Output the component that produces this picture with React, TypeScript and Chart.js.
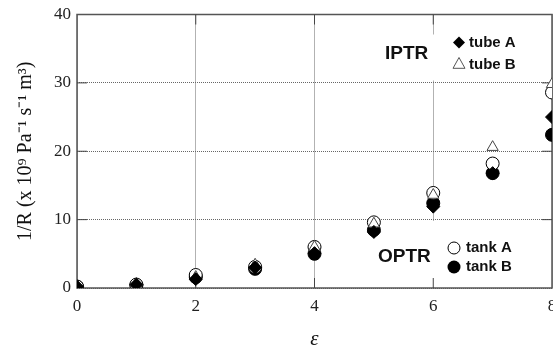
import React, { useEffect, useRef } from 'react';
import { Chart, registerables } from 'chart.js';

Chart.register(...registerables);

// ε values (x axis)
const epsilon = [0, 1, 2, 3, 4, 5, 6, 7, 8];
// 1/R values (x 10^9 Pa^-1 s^-1 m^3)
const tubeA = [0.2, 0.5, 1.3, 3.0, 5.1, 8.2, 11.9, 16.8, 25.0];
const tubeB = [0.2, 0.6, 1.6, 3.4, 6.0, 9.4, 13.6, 20.6, 29.8];
const tankA = [0.2, 0.5, 1.9, 3.1, 6.0, 9.6, 13.9, 18.2, 28.6];
const tankB = [0.2, 0.4, 1.6, 2.8, 5.0, 8.5, 12.4, 16.8, 22.4];

const xTickValues = [0, 2, 4, 6, 8];
const yTickValues = [0, 10, 20, 30, 40];

const SERIF = "'Liberation Serif', 'Times New Roman', serif";
const SANS = "'Liberation Sans', Arial, Helvetica, sans-serif";

const pts = (ys: number[]) => epsilon.map((x, i) => ({ x, y: ys[i] }));

function drawMarker(ctx: CanvasRenderingContext2D, kind: string, x: number, y: number, r: number) {
  ctx.save();
  ctx.lineWidth = 1;
  ctx.strokeStyle = '#000';
  ctx.beginPath();
  if (kind === 'diamond') {
    ctx.moveTo(x, y - r);
    ctx.lineTo(x + r, y);
    ctx.lineTo(x, y + r);
    ctx.lineTo(x - r, y);
    ctx.closePath();
    ctx.fillStyle = '#000';
    ctx.fill();
  } else if (kind === 'triangle') {
    ctx.moveTo(x, y - r);
    ctx.lineTo(x + r, y + r * 0.8);
    ctx.lineTo(x - r, y + r * 0.8);
    ctx.closePath();
    ctx.fillStyle = '#fff';
    ctx.fill();
    ctx.strokeStyle = '#555';
    ctx.stroke();
  } else if (kind === 'open') {
    ctx.arc(x, y, r, 0, Math.PI * 2);
    ctx.fillStyle = '#fff';
    ctx.fill();
    ctx.stroke();
  } else {
    ctx.arc(x, y, r, 0, Math.PI * 2);
    ctx.fillStyle = '#000';
    ctx.fill();
  }
  ctx.restore();
}

const framePlugin = {
  id: 'frameAndLegend',
  beforeDatasetsDraw(chart: any) {
    const { ctx, chartArea: a } = chart;
    const xs = chart.scales.x;
    const ys = chart.scales.y;
    ctx.save();
    // white boxes behind the legend groups
    ctx.fillStyle = '#fff';
    ctx.fillRect(a.right - 174, a.top + 20, 170, 46);
    ctx.fillRect(a.right - 180, a.bottom - 67, 176, 66);
    // frame
    ctx.strokeStyle = '#555';
    ctx.lineWidth = 1.5;
    ctx.strokeRect(a.left, a.top, a.right - a.left, a.bottom - a.top);
    // inside tick marks
    ctx.lineWidth = 1;
    ctx.strokeStyle = '#444';
    ctx.beginPath();
    yTickValues.slice(1, -1).forEach((v) => {
      const py = ys.getPixelForValue(v);
      ctx.moveTo(a.left, py);
      ctx.lineTo(a.left + 10, py);
      ctx.moveTo(a.right, py);
      ctx.lineTo(a.right - 10, py);
    });
    xTickValues.slice(1, -1).forEach((v) => {
      const px = xs.getPixelForValue(v);
      ctx.moveTo(px, a.bottom);
      ctx.lineTo(px, a.bottom - 10);
      ctx.moveTo(px, a.top);
      ctx.lineTo(px, a.top + 10);
    });
    ctx.stroke();
    ctx.restore();
  },
  afterDatasetsDraw(chart: any) {
    const { ctx, chartArea: a } = chart;
    ctx.save();
    ctx.fillStyle = '#111';
    ctx.textBaseline = 'middle';
    ctx.textAlign = 'left';
    // IPTR group
    ctx.font = `bold 19px ${SANS}`;
    ctx.fillText('IPTR', a.right - 167, a.top + 39);
    drawMarker(ctx, 'diamond', a.right - 93, a.top + 28, 6);
    drawMarker(ctx, 'triangle', a.right - 93, a.top + 49, 6);
    ctx.font = `bold 15px ${SANS}`;
    ctx.fillText('tube A', a.right - 83, a.top + 28);
    ctx.fillText('tube B', a.right - 83, a.top + 50);
    // OPTR group
    ctx.font = `bold 19px ${SANS}`;
    ctx.fillText('OPTR', a.right - 174, a.bottom - 31);
    drawMarker(ctx, 'open', a.right - 98, a.bottom - 40, 6);
    drawMarker(ctx, 'filled', a.right - 98, a.bottom - 21, 6.5);
    ctx.font = `bold 15px ${SANS}`;
    ctx.fillText('tank A', a.right - 86, a.bottom - 40);
    ctx.fillText('tank B', a.right - 86, a.bottom - 21);
    ctx.restore();
  },
};

export default function App() {
  const ref = useRef<HTMLCanvasElement | null>(null);
  useEffect(() => {
    if (!ref.current) return;
    const chart = new Chart(ref.current, {
      type: 'scatter',
      data: {
        datasets: [
          {
            label: 'tube A',
            data: pts(tubeA),
            pointStyle: 'rectRot',
            pointRadius: 6.5,
            backgroundColor: '#000',
            borderColor: '#000',
            borderWidth: 1,
          },
          {
            label: 'tube B',
            data: pts(tubeB),
            pointStyle: 'triangle',
            pointRadius: 6.5,
            backgroundColor: '#fff',
            borderColor: '#444',
            borderWidth: 1,
          },
          {
            label: 'tank A',
            data: pts(tankA),
            pointStyle: 'circle',
            pointRadius: 6.5,
            backgroundColor: '#fff',
            borderColor: '#000',
            borderWidth: 1,
          },
          {
            label: 'tank B',
            data: pts(tankB),
            pointStyle: 'circle',
            pointRadius: 6.5,
            backgroundColor: '#000',
            borderColor: '#000',
            borderWidth: 1,
          },
        ],
      },
      options: {
        animation: false,
        responsive: false,
        devicePixelRatio: 1,
        layout: { padding: { top: 14, right: 48, left: 0, bottom: 0 } },
        plugins: {
          legend: { display: false },
          tooltip: { enabled: false },
        },
        scales: {
          x: {
            type: 'linear',
            min: 0,
            max: 8,
            afterFit: (s: any) => {
              s.height = 60;
            },
            afterBuildTicks: (s: any) => {
              s.ticks = xTickValues.map((v) => ({ value: v }));
            },
            ticks: {
              color: '#222',
              font: { family: SERIF, size: 17 },
              padding: 8,
              maxRotation: 0,
            },
            grid: { color: '#666', lineWidth: 1, drawTicks: false },
            border: { display: false, dash: [1, 1] },
            title: {
              display: true,
              text: 'ε',
              color: '#111',
              font: { family: SERIF, size: 21, style: 'italic' },
              padding: { top: 0, bottom: -4 },
            },
          },
          y: {
            type: 'linear',
            min: 0,
            max: 40,
            afterFit: (s: any) => {
              s.width = 77;
            },
            afterBuildTicks: (s: any) => {
              s.ticks = yTickValues.map((v) => ({ value: v }));
            },
            ticks: {
              color: '#222',
              font: { family: SERIF, size: 17, lineHeight: 1 },
              padding: 6,
            },
            grid: { color: '#666', lineWidth: 1, drawTicks: false },
            border: { display: false, dash: [1, 1] },
            title: {
              display: true,
              text: '1/R (x 10⁹ Pa⁻¹ s⁻¹ m³)',
              color: '#111',
              font: { family: SERIF, size: 20 },
              padding: { top: 14, bottom: 0 },
            },
          },
        },
      },
      plugins: [framePlugin],
    } as any);
    return () => chart.destroy();
  }, []);

  return (
    <div style={{ position: 'fixed', left: 0, top: 0, width: 553, height: 348, overflow: 'hidden', background: '#fff' }}>
      <canvas ref={ref} width={600} height={348} style={{ display: 'block', width: 600, height: 348 }} />
    </div>
  );
}
